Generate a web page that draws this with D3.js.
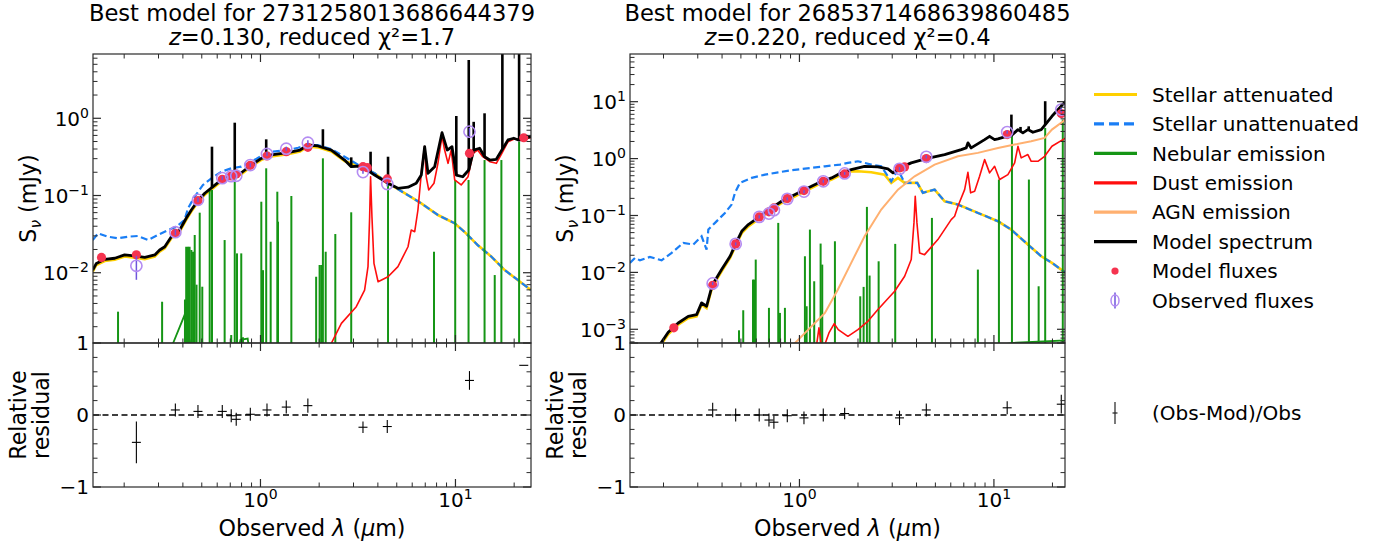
<!DOCTYPE html>
<html>
<head>
<meta charset="utf-8">
<script src="https://cdn.jsdelivr.net/npm/d3@7/dist/d3.min.js"></script>
<style>
  body { margin: 0; background: #fff; }
  text { font-family: "DejaVu Sans", sans-serif; fill: #000; }
</style>
</head>
<body>
<svg id="chart" width="1390" height="548"></svg>
<script>
////////// DATA : object 2731258013686644379 (left) //////////

// [wavelength (um), flux (mJy)]
const left_spectrum = [[0.138,0.0108],[0.144,0.0132],[0.159,0.0149],[0.179,0.0154],[0.201,0.0170],[0.226,0.0165],[0.255,0.0158],[0.287,0.0170],[0.304,0.0197],[0.323,0.0217],[0.349,0.0293],[0.385,0.0357],[0.416,0.0507],[0.442,0.0649],[0.478,0.0857],[0.518,0.107],[0.571,0.130],[0.630,0.159],[0.708,0.179],[0.797,0.197],[0.897,0.248],[1.01,0.303],[1.136,0.335],[1.38,0.358],[1.595,0.388],[1.75,0.451],[1.97,0.438],[2.31,0.388],[2.70,0.288],[2.92,0.236],[3.29,0.241],[3.85,0.184],[4.51,0.144],[5.07,0.124],[5.71,0.128],[6.29,0.144],[6.68,0.184],[6.95,0.429],[7.23,0.194],[7.82,0.236],[8.53,0.651],[9.08,0.388],[9.60,0.429],[10.1,0.184],[10.9,0.175],[11.7,0.214],[12.4,0.388],[13.3,0.409],[14.1,0.318],[15.0,0.288],[16.2,0.294],[17.3,0.388],[18.6,0.524],[19.9,0.551],[21.2,0.52],[24.4,0.58]];
// emission-line spikes on the model spectrum: [wavelength, peak flux]
const left_spikes = [[0.564,0.429],[0.738,0.877],[1.07,0.534],[2.09,0.721],[2.92,0.312],[3.67,0.369],[4.51,0.318],[10.1,1.07],[11.7,5.69],[12.4,0.90],[14.1,1.16],[17.4,20],[21.2,20]];
const left_stellar_att = [[0.138,0.0103],[0.144,0.0126],[0.159,0.0142],[0.179,0.0147],[0.201,0.0162],[0.226,0.0157],[0.255,0.0150],[0.287,0.0162],[0.304,0.0188],[0.323,0.0207],[0.349,0.0280],[0.385,0.0340],[0.416,0.0485],[0.442,0.0620],[0.478,0.0820],[0.518,0.102],[0.571,0.124],[0.630,0.152],[0.708,0.171],[0.797,0.188],[0.897,0.237],[1.01,0.290],[1.136,0.320],[1.38,0.342],[1.595,0.372],[1.75,0.432],[1.97,0.420],[2.31,0.372],[2.70,0.280],[3.29,0.232],[3.85,0.194],[4.51,0.144],[5.49,0.107],[6.68,0.0792],[8.13,0.0559],[9.91,0.0436],[11.1,0.0340],[13.0,0.0228],[15.3,0.0161],[17.9,0.0108],[24.4,0.00597]];
const left_stellar_unatt = [[0.138,0.0265],[0.147,0.0324],[0.165,0.0293],[0.186,0.0279],[0.209,0.0293],[0.235,0.0299],[0.265,0.0265],[0.298,0.0308],[0.336,0.0357],[0.370,0.0394],[0.408,0.0482],[0.425,0.0683],[0.460,0.0965],[0.507,0.137],[0.560,0.167],[0.630,0.203],[0.708,0.225],[0.797,0.236],[0.897,0.274],[1.01,0.325],[1.135,0.369],[1.38,0.388],[1.56,0.416],[1.75,0.451],[1.97,0.451],[2.31,0.397],[2.70,0.318],[3.29,0.236],[3.85,0.194],[4.51,0.144],[5.49,0.107],[6.68,0.0792],[8.13,0.0559],[9.91,0.0436],[11.1,0.0340],[13.0,0.0228],[15.3,0.0161],[17.9,0.0108],[24.4,0.00597]];
const left_nebular_lines = [[0.186,0.00313],[0.313,0.00421],[0.41,0.0045],[0.416,0.0217],[0.425,0.0217],[0.433,0.0217],[0.442,0.0197],[0.451,0.0187],[0.460,0.0308],[0.47,0.007],[0.488,0.0599],[0.503,0.00659],[0.549,0.118],[0.564,0.118],[0.655,0.0265],[0.708,0.00156],[0.738,0.175],[0.758,0.0178],[0.797,0.0178],[0.813,0.00146],[1.01,0.0831],[1.03,0.0108],[1.07,0.225],[1.128,0.0252],[1.22,0.112],[1.23,0.0458],[1.44,0.0986],[1.93,0.00887],[2.01,0.0126],[2.05,0.0126],[2.09,0.303],[2.16,0.0187],[2.42,0.0317],[2.92,0.0606],[4.51,0.137],[7.76,0.0187],[9.97,0.159],[11.67,0.159],[14.1,0.288],[15.9,0.00933],[17.2,0.288],[21.2,0.498]];
const left_nebular_cont = [[0.345,0.001],[0.408,0.00283],[0.425,0.0016],[0.45,0.0009],[0.76,0.0009],[0.79,0.00135],[0.86,0.0014],[0.88,0.0009]];
const left_dust = [[2.22,0.0010],[2.60,0.00221],[3.10,0.00363],[3.42,0.00597],[3.56,0.0120],[3.63,0.0531],[3.67,0.175],[3.73,0.0531],[3.82,0.0132],[4.01,0.00764],[4.51,0.00887],[5.07,0.0120],[5.71,0.0217],[5.93,0.0357],[6.18,0.0340],[6.42,0.0649],[6.73,0.236],[6.95,0.429],[7.08,0.175],[7.29,0.118],[7.76,0.144],[8.13,0.261],[8.53,0.590],[8.80,0.388],[9.16,0.261],[9.51,0.388],[9.91,0.159],[10.7,0.137],[11.6,0.175],[12.3,0.352],[13.0,0.388],[13.8,0.318],[15.0,0.274],[16.2,0.261],[17.3,0.352],[18.6,0.498],[19.9,0.534],[24.4,0.56]];
const left_model_fluxes = [[0.153,0.0158],[0.231,0.0171],[0.366,0.0324],[0.478,0.0857],[0.637,0.162],[0.708,0.179],[0.751,0.190],[0.887,0.246],[1.08,0.325],[1.356,0.37],[1.75,0.421],[3.355,0.236],[3.53,0.229],[4.47,0.164],[11.8,0.352],[22.4,0.56]];
// [wavelength, flux, error]
const left_obs_fluxes = [[0.231,0.0123,0.0042],[0.366,0.0335,0.003],[0.478,0.088,0.006],[0.637,0.168,0.01],[0.708,0.178,0.01],[0.751,0.18,0.01],[0.887,0.248,0.015],[1.08,0.345,0.02],[1.356,0.404,0.025],[1.75,0.483,0.035],[3.355,0.201,0.01],[4.47,0.141,0.01],[11.8,0.671,0.08]];
// [wavelength, (obs-mod)/obs, error]
const left_residuals = [[0.231,-0.38,0.29],[0.366,0.07,0.09],[0.478,0.05,0.09],[0.637,0.05,0.09],[0.708,-0.01,0.09],[0.751,-0.06,0.09],[0.887,0.01,0.09],[1.08,0.07,0.09],[1.356,0.11,0.09],[1.75,0.13,0.1],[3.355,-0.17,0.08],[4.47,-0.16,0.09],[11.8,0.48,0.13],[22.4,0.69,0]];

////////// DATA : object 2685371468639860485 (right) //////////

const right_spectrum = [[0.185,4.5e-4],[0.2115,8.86e-4],[0.238,0.00129],[0.268,0.00169],[0.296,0.00181],[0.314,0.00291],[0.333,0.00254],[0.356,0.00593],[0.398,0.0112],[0.440,0.0192],[0.470,0.0317],[0.505,0.0528],[0.546,0.0692],[0.621,0.0945],[0.719,0.136],[0.810,0.178],[0.912,0.218],[1.067,0.285],[1.249,0.374],[1.464,0.458],[1.615,0.545],[1.846,0.641],[2.163,0.732],[2.533,0.715],[2.851,0.659],[3.027,0.561],[3.275,0.687],[3.757,0.840],[4.487,1.0],[5.58,1.176],[6.79,1.439],[7.20,1.54],[7.35,1.888],[7.64,1.54],[8.96,2.158],[9.50,2.465],[10.08,2.158],[10.49,2.219],[11.35,2.406],[12.27,2.536],[13.29,3.233],[14.09,2.830],[14.95,3.233],[15.87,2.899],[17.51,3.233],[18.95,4.524],[19.87,5.54],[23.4,10.2]];
const right_spikes = [[12.3,5.93],[13.7,3.6],[15.1,3.69],[18.35,10.2]];
const right_stellar_att = [[0.185,4.2e-4],[0.2115,8.2e-4],[0.238,0.0012],[0.268,0.00157],[0.296,0.00168],[0.314,0.0027],[0.333,0.00236],[0.356,0.0055],[0.398,0.0104],[0.440,0.0179],[0.470,0.0295],[0.505,0.049],[0.546,0.0644],[0.621,0.0879],[0.719,0.1265],[0.810,0.1655],[0.912,0.203],[1.067,0.265],[1.249,0.348],[1.464,0.426],[1.615,0.507],[1.846,0.596],[2.0,0.598],[2.34,0.574],[2.74,0.523],[2.965,0.374],[3.21,0.458],[3.475,0.374],[4.034,0.374],[4.314,0.250],[4.955,0.285],[5.58,0.178],[6.53,0.1555],[8.27,0.111],[10.49,0.0791],[12.27,0.0565],[14.95,0.0308],[17.51,0.0192],[19.87,0.0147],[23.4,0.0098]];
const right_stellar_unatt = [[0.1344,0.0147],[0.1427,0.0180],[0.1513,0.0163],[0.1703,0.0187],[0.1956,0.0163],[0.2203,0.0220],[0.2527,0.0330],[0.2845,0.0308],[0.314,0.0431],[0.333,0.0252],[0.340,0.0565],[0.368,0.0741],[0.414,0.111],[0.448,0.1555],[0.466,0.2497],[0.494,0.374],[0.568,0.458],[0.665,0.523],[0.778,0.574],[0.912,0.623],[1.067,0.667],[1.352,0.732],[1.615,0.784],[1.775,0.840],[1.998,0.897],[2.340,0.784],[2.634,0.732],[2.965,0.399],[3.209,0.641],[3.475,0.374],[4.034,0.374],[4.314,0.250],[4.955,0.285],[5.58,0.178],[6.53,0.1555],[8.27,0.111],[10.49,0.0791],[12.27,0.0565],[14.95,0.0308],[17.51,0.0192],[19.87,0.0147],[23.4,0.0098]];
const right_nebular_lines = [[0.489,9.6e-4],[0.514,0.00216],[0.577,0.00747],[0.586,0.00747],[0.596,0.0168],[0.697,0.00238],[0.778,0.0741],[0.794,0.00194],[0.842,0.00238],[1.067,0.0192],[1.089,0.00254],[1.132,0.0565],[1.191,0.00698],[1.285,0.0321],[1.31,0.0137],[1.522,0.0352],[2.054,0.0038],[2.138,0.00556],[2.223,0.1416],[2.295,0.00879],[2.554,0.01567],[3.108,0.0317],[4.80,0.0907],[8.27,0.0112],[10.61,0.428],[12.38,3.46],[15.13,0.428],[16.98,0.0057],[18.35,3.46],[22.6,4.85]];
const right_nebular_cont = [[10.5,5.3e-4],[13,5.8e-4],[18,6.1e-4],[23.4,6.4e-4]];
const right_dust = [[1.211,4e-4],[1.26,0.00106],[1.31,4e-4],[1.418,8.64e-4],[1.51,0.00126],[1.583,9.88e-4],[1.775,7.53e-4],[1.998,9.88e-4],[2.249,0.00138],[2.533,0.00222],[3.087,0.00466],[3.475,0.00854],[3.757,0.0168],[3.88,0.0741],[3.939,0.2175],[4.02,0.0741],[4.15,0.0220],[4.40,0.0205],[5.15,0.0377],[6.03,0.0847],[6.28,0.0968],[6.53,0.145],[7.07,0.285],[7.35,0.574],[7.59,0.250],[7.96,0.266],[8.44,0.489],[8.96,0.960],[9.50,0.561],[10.08,0.732],[10.70,0.428],[11.80,0.523],[12.78,0.840],[13.29,1.645],[13.81,1.03],[14.95,1.176],[15.55,0.897],[16.83,0.897],[18.23,1.098],[19.87,1.645],[23.4,2.31]];
const right_agn = [[0.912,5e-4],[1.11,9.88e-4],[1.352,0.00194],[1.577,0.00499],[1.846,0.0147],[2.163,0.0431],[2.634,0.127],[3.209,0.285],[3.91,0.489],[4.955,0.784],[6.53,1.098],[8.27,1.26],[10.49,1.54],[12.78,1.763],[15.55,2.014],[18.23,2.31],[19.87,3.23],[23.4,4.85]];
const right_model_fluxes = [[0.226,0.00106],[0.358,0.00593],[0.470,0.0317],[0.621,0.0945],[0.697,0.116],[0.739,0.136],[0.866,0.198],[1.055,0.274],[1.326,0.399],[1.708,0.538],[3.27,0.686],[3.47,0.715],[4.49,1.0],[11.7,2.64],[22.2,6.18]];
const right_obs_fluxes = [[0.358,0.0064,0.0004],[0.470,0.0317,0.002],[0.621,0.0945,0.006],[0.697,0.108,0.007],[0.739,0.124,0.008],[0.866,0.196,0.012],[1.055,0.263,0.016],[1.326,0.399,0.025],[1.708,0.549,0.03],[3.27,0.66,0.05],[4.49,1.075,0.07],[11.7,2.93,0.2],[22.2,7.27,0.8]];
const right_residuals = [[0.358,0.07,0.1],[0.470,0.0,0.09],[0.621,0.0,0.09],[0.697,-0.07,0.09],[0.739,-0.1,0.09],[0.866,-0.01,0.09],[1.055,-0.04,0.09],[1.326,0.0,0.09],[1.708,0.02,0.08],[3.27,-0.04,0.1],[4.49,0.07,0.09],[11.7,0.1,0.09],[22.2,0.15,0.13]];

const legend_labels = ["Stellar attenuated", "Stellar unattenuated", "Nebular emission", "Dust emission",
                       "AGN emission", "Model spectrum", "Model fluxes", "Observed fluxes"];
const residual_label = "(Obs-Mod)/Obs";

////////// STYLE / LAYOUT //////////

const TOP = 54, MID = 343, BOTTOM = 487;
const COL = {
    att: "#ffd000", unatt: "#1a7ef5", neb: "#159515", dust: "#ff0d0d", agn: "#ffb070",
    model: "#000", mflux: "#f5334f", obs: "#b48cf2", obs_err: "#6f55dc", axis: "#2a2a2a"
};

var panels = [
    {left: 93, right: 531, x_dom: [0.1384, 24.4], y_dom: [1.23e-3, 6.8],
     id: "2731258013686644379", z: "0.130", chi: "1.7",
     spectrum: left_spectrum, spikes: left_spikes, att: left_stellar_att, unatt: left_stellar_unatt,
     neb: left_nebular_lines, neb_cont: left_nebular_cont, dust: left_dust, agn: null,
     mflux: left_model_fluxes, obs: left_obs_fluxes, res: left_residuals},
    {left: 630, right: 1065, x_dom: [0.1345, 23.2], y_dom: [5.74e-4, 68.9],
     id: "2685371468639860485", z: "0.220", chi: "0.4",
     spectrum: right_spectrum, spikes: right_spikes, att: right_stellar_att, unatt: right_stellar_unatt,
     neb: right_nebular_lines, neb_cont: right_nebular_cont, dust: right_dust, agn: right_agn,
     mflux: right_model_fluxes, obs: right_obs_fluxes, res: right_residuals}
];

let svg = d3.select("#chart");
let defs = svg.append("defs");

/**
 * ticks 1..9 x 10^e inside a log domain
 */
function log_ticks(dom) {
    let lo = Math.min(dom[0], dom[1]), hi = Math.max(dom[0], dom[1]);
    let out = [];
    for (let e = Math.floor(Math.log10(lo)); e <= Math.ceil(Math.log10(hi)); e++) {
        for (let k = 1; k < 10; k++) {
            let v = k * Math.pow(10, e);
            if (v >= lo * 0.9999 && v <= hi * 1.0001) out.push({v: v, major: k === 1, exp: e});
        }
    }
    return out;
}

/**
 * writes 10^exp as text with a superscript
 */
function pow_label(sel, exp) {
    sel.append("tspan").text("10");
    sel.append("tspan").attr("dy", -8).attr("font-size", 14).text(exp < 0 ? "\u2212" + (-exp) : exp);
}

/**
 * continuum level below a spike (log-log interpolation of the curve)
 */
function base_at(cont, lam) {
    for (let k = 0; k < cont.length - 1; k++) {
        if (lam >= cont[k][0] && lam <= cont[k + 1][0]) {
            let t = Math.log(lam / cont[k][0]) / Math.log(cont[k + 1][0] / cont[k][0]);
            return Math.exp(Math.log(cont[k][1]) + t * Math.log(cont[k + 1][1] / cont[k][1]));
        }
    }
    return cont[cont.length - 1][1];
}

function draw_panel(p, i) {
    let x = d3.scaleLog().domain(p.x_dom).range([p.left, p.right]);
    let y = d3.scaleLog().domain(p.y_dom).range([MID, TOP]);
    let r = d3.scaleLinear().domain([-1, 1]).range([BOTTOM, MID]);
    let w = p.right - p.left;
    let g = svg.append("g");

    defs.append("clipPath").attr("id", "clipt" + i).append("rect")
        .attr("x", p.left).attr("y", TOP).attr("width", w).attr("height", MID - TOP);
    defs.append("clipPath").attr("id", "clipr" + i).append("rect")
        .attr("x", p.left).attr("y", MID).attr("width", w).attr("height", BOTTOM - MID);

    let plot = g.append("g").attr("clip-path", "url(#clipt" + i + ")");
    let line = d3.line().x(d => x(d[0])).y(d => y(d[1]));

    plot.append("path").attr("d", line(p.att)).attr("fill", "none")
        .attr("stroke", COL.att).attr("stroke-width", 2.6);
    plot.append("path").attr("d", line(p.unatt)).attr("fill", "none")
        .attr("stroke", COL.unatt).attr("stroke-width", 2.2).attr("stroke-dasharray", "7,3.5");

    plot.append("path").attr("d", line(p.neb_cont)).attr("fill", "none")
        .attr("stroke", COL.neb).attr("stroke-width", 1.8);
    plot.selectAll(null).data(p.neb).enter().append("line")
        .attr("x1", d => x(d[0])).attr("x2", d => x(d[0]))
        .attr("y1", MID + 3).attr("y2", d => y(d[1]))
        .attr("stroke", COL.neb).attr("stroke-width", 2);

    plot.append("path").attr("d", line(p.dust)).attr("fill", "none")
        .attr("stroke", COL.dust).attr("stroke-width", 1.6).attr("stroke-linejoin", "round");
    if (p.agn) {
        plot.append("path").attr("d", line(p.agn)).attr("fill", "none")
            .attr("stroke", COL.agn).attr("stroke-width", 2);
    }

    plot.append("path").attr("d", line(p.spectrum)).attr("fill", "none")
        .attr("stroke", COL.model).attr("stroke-width", 2.8).attr("stroke-linejoin", "round");
    plot.selectAll(null).data(p.spikes).enter().append("line")
        .attr("x1", d => x(d[0])).attr("x2", d => x(d[0]))
        .attr("y1", d => y(base_at(p.spectrum, d[0]))).attr("y2", d => y(d[1]))
        .attr("stroke", COL.model).attr("stroke-width", 2.6);

    plot.selectAll(null).data(p.mflux).enter().append("circle")
        .attr("cx", d => x(d[0])).attr("cy", d => y(d[1])).attr("r", 4.6)
        .attr("fill", COL.mflux);
    plot.selectAll(null).data(p.obs).enter().append("line")
        .attr("x1", d => x(d[0])).attr("x2", d => x(d[0]))
        .attr("y1", d => y(d[1] - d[2])).attr("y2", d => y(d[1] + d[2]))
        .attr("stroke", COL.obs_err).attr("stroke-width", 1.5);
    plot.selectAll(null).data(p.obs).enter().append("circle")
        .attr("cx", d => x(d[0])).attr("cy", d => y(d[1])).attr("r", 5.6)
        .attr("fill", "none").attr("stroke", COL.obs).attr("stroke-width", 1.6);

    // residual panel
    let rp = g.append("g").attr("clip-path", "url(#clipr" + i + ")");
    rp.append("line").attr("x1", p.left).attr("x2", p.right).attr("y1", r(0)).attr("y2", r(0))
        .attr("stroke", "#000").attr("stroke-width", 1.5).attr("stroke-dasharray", "6,3.5");
    rp.selectAll(null).data(p.res).enter().append("line")
        .attr("x1", d => x(d[0])).attr("x2", d => x(d[0]))
        .attr("y1", d => r(d[1] - d[2])).attr("y2", d => r(d[1] + d[2]))
        .attr("stroke", "#000").attr("stroke-width", 1.1);
    rp.selectAll(null).data(p.res).enter().append("line")
        .attr("x1", d => x(d[0]) - 4.5).attr("x2", d => x(d[0]) + 4.5)
        .attr("y1", d => r(d[1])).attr("y2", d => r(d[1]))
        .attr("stroke", "#000").attr("stroke-width", 1.1);

    // frames
    let ax = g.append("g").attr("stroke", COL.axis);
    ax.append("rect").attr("x", p.left).attr("y", TOP).attr("width", w).attr("height", MID - TOP)
        .attr("fill", "none").attr("stroke-width", 1.2);
    ax.append("rect").attr("x", p.left).attr("y", MID).attr("width", w).attr("height", BOTTOM - MID)
        .attr("fill", "none").attr("stroke-width", 1.2);

    // x ticks, pointing inwards on every horizontal edge
    let xt = log_ticks(p.x_dom);
    [[TOP, 1], [MID, -1], [MID, 1], [BOTTOM, -1]].forEach(function(e) {
        ax.selectAll(null).data(xt).enter().append("line")
            .attr("x1", d => x(d.v)).attr("x2", d => x(d.v))
            .attr("y1", e[0]).attr("y2", d => e[0] + e[1] * (d.major ? 8 : 4.5))
            .attr("stroke-width", d => d.major ? 1.2 : 1);
    });
    let yt = log_ticks(p.y_dom);
    [[p.left, 1], [p.right, -1]].forEach(function(e) {
        ax.selectAll(null).data(yt).enter().append("line")
            .attr("y1", d => y(d.v)).attr("y2", d => y(d.v))
            .attr("x1", e[0]).attr("x2", d => e[0] + e[1] * (d.major ? 8 : 4.5))
            .attr("stroke-width", d => d.major ? 1.2 : 1);
    });
    let rt = d3.range(-5, 6).map(k => ({v: k / 5, major: k % 5 === 0}));
    [[p.left, 1], [p.right, -1]].forEach(function(e) {
        ax.selectAll(null).data(rt).enter().append("line")
            .attr("y1", d => r(d.v)).attr("y2", d => r(d.v))
            .attr("x1", e[0]).attr("x2", d => e[0] + e[1] * (d.major ? 8 : 4.5))
            .attr("stroke-width", d => d.major ? 1.2 : 1);
    });

    // tick labels
    yt.filter(d => d.major).forEach(function(d) {
        let t = g.append("text").attr("x", p.left - 4).attr("y", y(d.v) + 7.3)
            .attr("text-anchor", "end").attr("font-size", 20);
        pow_label(t, d.exp);
    });
    rt.filter(d => d.major).forEach(function(d) {
        g.append("text").attr("x", p.left - 4).attr("y", r(d.v) + 7.3)
            .attr("text-anchor", "end").attr("font-size", 20)
            .text(d.v < 0 ? "\u2212" + (-d.v) : d.v);
    });
    xt.filter(d => d.major).forEach(function(d) {
        let t = g.append("text").attr("x", x(d.v)).attr("y", 507)
            .attr("text-anchor", "middle").attr("font-size", 20);
        pow_label(t, d.exp);
    });

    // axis labels
    let cx = (p.left + p.right) / 2;
    let xl = g.append("text").attr("x", cx).attr("y", 536).attr("text-anchor", "middle").attr("font-size", 22.2);
    xl.append("tspan").text("Observed ");
    xl.append("tspan").attr("font-style", "italic").text("\u03bb");
    xl.append("tspan").text(" (");
    xl.append("tspan").attr("font-style", "italic").text("\u03bc");
    xl.append("tspan").text("m)");

    let yl = g.append("text").attr("transform", "translate(" + (p.left - 57) + "," + ((TOP + MID) / 2) + ") rotate(-90)")
        .attr("text-anchor", "middle").attr("font-size", 22.2);
    yl.append("tspan").text("S");
    yl.append("tspan").attr("font-size", 15.5).attr("font-style", "italic").attr("dy", 4.5).text("\u03bd");
    yl.append("tspan").attr("dy", -4.5).text(" (mJy)");

    g.append("text").attr("transform", "translate(" + (p.left - 67) + "," + ((MID + BOTTOM) / 2) + ") rotate(-90)")
        .attr("text-anchor", "middle").attr("font-size", 22.2).text("Relative");
    g.append("text").attr("transform", "translate(" + (p.left - 44.5) + "," + ((MID + BOTTOM) / 2) + ") rotate(-90)")
        .attr("text-anchor", "middle").attr("font-size", 22.2).text("residual");

    // title
    g.append("text").attr("x", cx).attr("y", 20.7).attr("text-anchor", "middle").attr("font-size", 22.6)
        .text("Best model for " + p.id);
    let t2 = g.append("text").attr("x", cx).attr("y", 45).attr("text-anchor", "middle").attr("font-size", 22.6);
    t2.append("tspan").attr("font-style", "italic").text("z");
    t2.append("tspan").text("=" + p.z + ", reduced \u03c7\u00b2=" + p.chi);
}

panels.forEach(draw_panel);

////////// LEGEND //////////

function draw_legend() {
    let lg = svg.append("g");
    let x0 = 1094, x1 = 1137, tx = 1152;
    let rows = d3.scaleLinear().domain([0, 7]).range([94.5, 300.5]);
    let styles = [
        {stroke: COL.att, dash: null}, {stroke: COL.unatt, dash: "10,5"}, {stroke: COL.neb, dash: null},
        {stroke: COL.dust, dash: null}, {stroke: COL.agn, dash: null}, {stroke: COL.model, dash: null}
    ];
    styles.forEach(function(s, k) {
        lg.append("line").attr("x1", x0).attr("x2", x1).attr("y1", rows(k)).attr("y2", rows(k))
            .attr("stroke", s.stroke).attr("stroke-width", 3.2).attr("stroke-dasharray", s.dash);
    });
    let mx = (x0 + x1) / 2 - 0.5;
    lg.append("circle").attr("cx", mx).attr("cy", rows(6)).attr("r", 3.6).attr("fill", COL.mflux);
    lg.append("line").attr("x1", mx).attr("x2", mx).attr("y1", rows(7) - 8).attr("y2", rows(7) + 8)
        .attr("stroke", COL.obs_err).attr("stroke-width", 1.5);
    lg.append("ellipse").attr("cx", mx).attr("cy", rows(7)).attr("rx", 4).attr("ry", 5.5)
        .attr("fill", "none").attr("stroke", COL.obs).attr("stroke-width", 1.5);

    legend_labels.forEach(function(l, k) {
        lg.append("text").attr("x", tx).attr("y", rows(k) + 7.2).attr("font-size", 20).text(l);
    });

    let ry = 413;
    lg.append("line").attr("x1", mx).attr("x2", mx).attr("y1", ry - 11).attr("y2", ry + 11)
        .attr("stroke", "#222").attr("stroke-width", 1.2);
    lg.append("line").attr("x1", mx - 2.5).attr("x2", mx + 2.5).attr("y1", ry).attr("y2", ry)
        .attr("stroke", "#222").attr("stroke-width", 1.2);
    lg.append("text").attr("x", tx).attr("y", ry + 7.2).attr("font-size", 20).text(residual_label);
}

draw_legend();
</script>
</body>
</html>
